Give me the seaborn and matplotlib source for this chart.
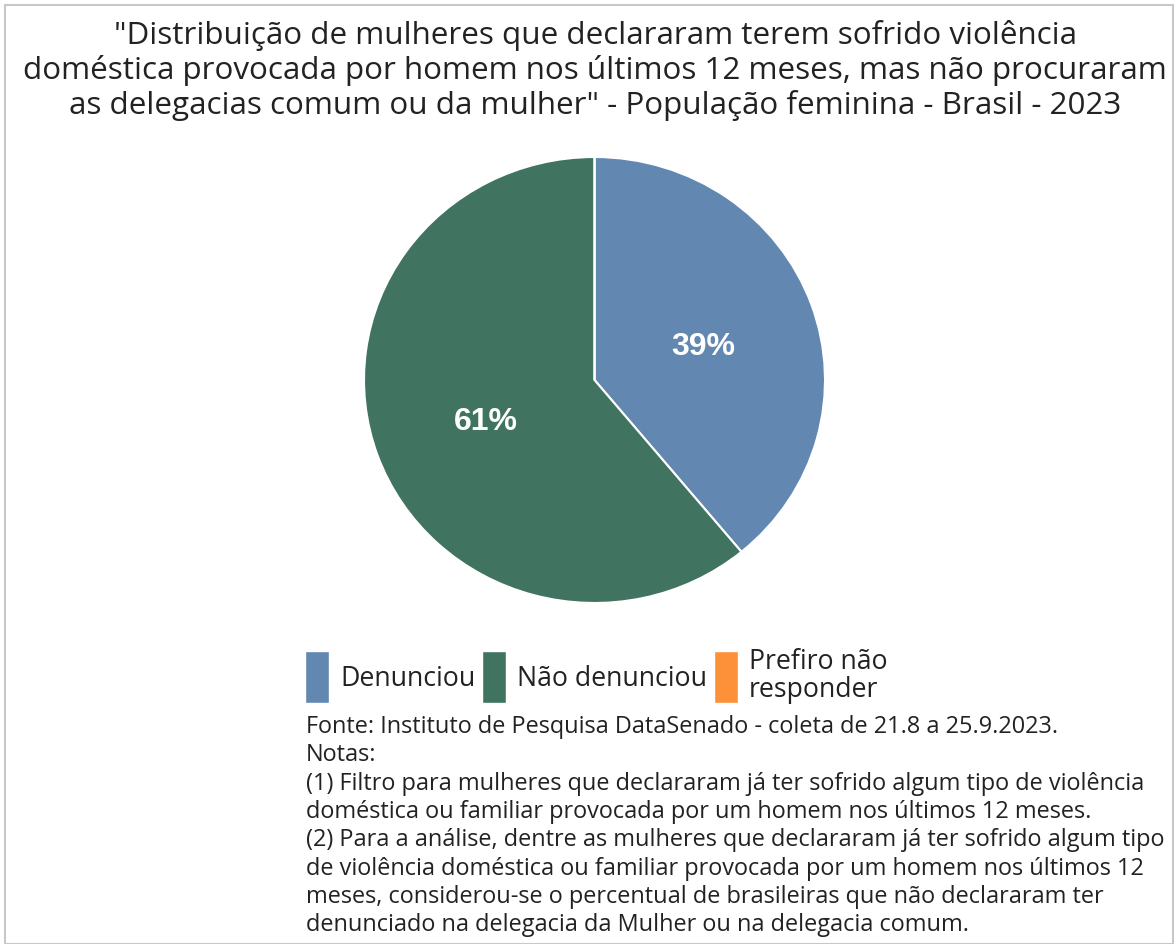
import matplotlib
matplotlib.use("Agg")
import matplotlib.pyplot as plt
import seaborn as sns
from matplotlib.patches import Rectangle, Patch

sns.set_theme(style="white")
plt.rcParams['font.family'] = ['Open Sans', 'DejaVu Sans']

categories = ["Denunciou", "Não denunciou", "Prefiro não\nresponder"]
values = [39, 61, 0]
colors = ["#6287B1", "#417460", "#FD913A"]

title = ('"Distribuição de mulheres que declararam terem sofrido violência\n'
         'doméstica provocada por homem nos últimos 12 meses, mas não procuraram\n'
         'as delegacias comum ou da mulher" - População feminina - Brasil - 2023')
notes = ("Fonte: Instituto de Pesquisa DataSenado - coleta de 21.8 a 25.9.2023.\n"
         "Notas:\n"
         "(1) Filtro para mulheres que declararam já ter sofrido algum tipo de violência\n"
         "doméstica ou familiar provocada por um homem nos últimos 12 meses.\n"
         "(2) Para a análise, dentre as mulheres que declararam já ter sofrido algum tipo\n"
         "de violência doméstica ou familiar provocada por um homem nos últimos 12\n"
         "meses, considerou-se o percentual de brasileiras que não declararam ter\n"
         "denunciado na delegacia da Mulher ou na delegacia comum.")

W, H = 1175, 945
fig = plt.figure(figsize=(W / 100, H / 100), dpi=100)
fig.patch.set_facecolor("white")

# border
fig.add_artist(Rectangle((5 / W, 0), (W - 7) / W, (H - 6) / H, transform=fig.transFigure,
                         fill=False, edgecolor="#c8c8c8", linewidth=1.5))

fig.text(595 / W, 1 - 20 / H, title, ha="center", va="top", fontsize=22.6,
         color="#222222", linespacing=1.16)

cx, cy, rx, ry = 594.5, 381, 230.5, 223
ax = fig.add_axes([(cx - rx) / W, (H - cy - ry) / H, 2 * rx / W, 2 * ry / H])

def fmt(p):
    return f"{p:.0f}%" if p > 0.5 else ""

wedges, texts, autotexts = ax.pie(
    values, colors=colors, startangle=90, counterclock=False,
    autopct=fmt, pctdistance=0.5,
    wedgeprops=dict(edgecolor="white", linewidth=1.5),
    textprops=dict(color="white", fontsize=23, fontweight="bold",
                   family=["Liberation Sans", "DejaVu Sans"]))
for t in autotexts:
    t.set_va("center_baseline")
ax.set_aspect("auto")
ax.set_xlim(-1.0, 1.0)
ax.set_ylim(-1.0, 1.0)

handles = [Patch(facecolor=c, edgecolor="white") for c in colors]
leg = fig.legend(handles, categories, loc="upper left", bbox_to_anchor=(305 / W, 1 - 648 / H),
                 ncol=3, frameon=False, fontsize=19.2, handlelength=0.9, handleheight=2.62,
                 handletextpad=0.42, columnspacing=0.25, borderaxespad=0, borderpad=0,
                 labelspacing=0)
for t in leg.get_texts():
    t.set_color("#222222")
    t.set_linespacing(1.0)

fig.text(306 / W, 1 - 715 / H, notes, ha="left", va="top", fontsize=16.9,
         color="#222222", linespacing=1.24)

fig.savefig("out.png", dpi=100, facecolor="white")
